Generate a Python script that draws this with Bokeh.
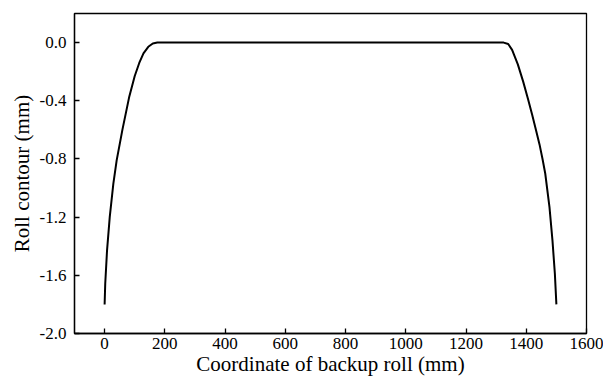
from bokeh.plotting import figure
from bokeh.embed import file_html
from bokeh.resources import INLINE
from bokeh.models import Range1d, FixedTicker, NumeralTickFormatter

# Roll contour of backup roll
coord_mm = [0, 2, 8, 17, 29, 40, 59, 82, 100, 115, 129, 145, 160, 175, 185,
            1325, 1340, 1353, 1372, 1390, 1406, 1420, 1432, 1444, 1454, 1463,
            1477, 1487, 1495, 1500]
contour_mm = [-1.80, -1.66, -1.43, -1.20, -0.97, -0.81, -0.60, -0.37, -0.23, -0.14,
              -0.074, -0.029, -0.006, 0.0, 0.0,
              0.0, -0.01, -0.05, -0.15, -0.27, -0.39, -0.50, -0.60, -0.70, -0.80, -0.90,
              -1.13, -1.36, -1.59, -1.80]

x_ticks = [0, 200, 400, 600, 800, 1000, 1200, 1400, 1600]
y_ticks = [-2.0, -1.6, -1.2, -0.8, -0.4, 0.0]

FONT = "Liberation Serif"

p = figure(width=603, height=381, output_backend="svg", toolbar_location=None,
           x_range=Range1d(-100, 1600), y_range=Range1d(-2.0, 0.2),
           min_border_left=74, min_border_right=17, min_border_top=13, min_border_bottom=48)

p.line(coord_mm, contour_mm, line_color="black", line_width=2)

p.xgrid.visible = False
p.ygrid.visible = False
p.outline_line_color = "black"
p.outline_line_width = 1.3
p.background_fill_color = "white"
p.border_fill_color = "white"

p.xaxis.ticker = FixedTicker(ticks=x_ticks)
p.yaxis.ticker = FixedTicker(ticks=y_ticks)
p.yaxis.formatter = NumeralTickFormatter(format="0.0")

for ax in (p.xaxis, p.yaxis):
    ax.major_tick_in = 5
    ax.major_tick_out = 0
    ax.minor_tick_line_color = None
    ax.axis_line_color = "black"
    ax.axis_line_width = 1.3
    ax.major_tick_line_color = "black"
    ax.major_tick_line_width = 1.3
    ax.major_label_text_font = FONT
    ax.major_label_text_font_size = "17px"
    ax.major_label_text_color = "black"
    ax.axis_label_text_font = FONT
    ax.axis_label_text_font_size = "21px"
    ax.axis_label_text_font_style = "normal"
    ax.axis_label_text_color = "black"

p.xaxis.axis_label = "Coordinate of backup roll (mm)"
p.yaxis.axis_label = "Roll contour (mm)"
p.xaxis.major_label_standoff = 4
p.xaxis.axis_label_standoff = 0
p.yaxis.major_label_standoff = 8
p.yaxis.axis_label_standoff = 3

open("out.html", "w").write(file_html(p, INLINE))
